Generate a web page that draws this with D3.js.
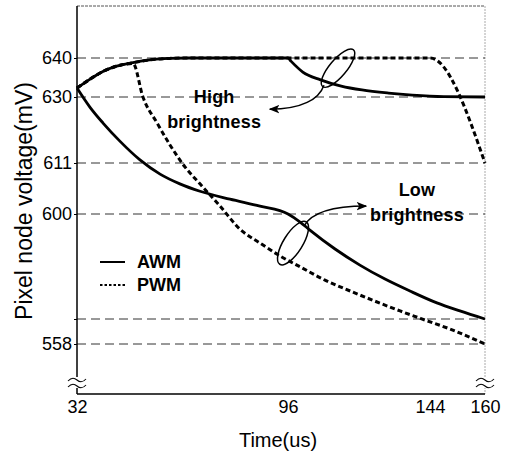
<!DOCTYPE html>
<html>
<head>
<meta charset="utf-8">
<script src="https://cdn.jsdelivr.net/npm/d3@7"></script>
<style>
html,body{margin:0;padding:0;background:#fff;}
svg{display:block;}
text{font-family:"Liberation Sans",Arial,sans-serif;fill:#000;}
</style>
</head>
<body>
<svg id="chart" width="507" height="454"></svg>
<script>
// ---- data ----
const xTicks = [32, 96, 144, 160];
const yGrid = [640, 630, 611, 600, 570, 558];
const yLabels = ["640", "630", "611", "600", "", "558"];

const awmHigh = [[32,632.3],[36,634.6],[40,636.6],[44,637.9],[49,638.8],[54,639.5],[60,639.9],[66,640],[96,640],[97,639.2],[101,636.4],[107,634.4],[114,632.8],[121,631.8],[130,631],[138,630.5],[148,630.1],[160,630]];
const pwmHigh = [[32,632.3],[36,634.6],[40,636.6],[44,637.9],[49,638.8],[54,639.5],[60,639.9],[66,640],[144,640],[160,611]];
const awmLow = [[32,632.3],[35.9,627.1],[39.9,622.5],[45,617.3],[51.1,611.9],[57.2,608.6],[63.2,606.5],[69.3,604.9],[78.4,603.2],[87.5,601.7],[96,600],[100.1,597.7],[103.4,595.4],[111.9,590],[120.3,585.4],[128.8,581.4],[137.2,578],[146,574.6],[152.7,572.3],[160,570]];
const pwmLow = [[32,632.3],[36,634.6],[40,636.6],[44,637.9],[49,638.6],[52,630],[56.3,622.5],[60.2,616.2],[64.8,610.1],[69.3,606.5],[75.4,601.7],[81.4,595.7],[87.5,591.7],[93.6,588],[100.1,584.9],[108.5,581.1],[117,578],[125.4,575.1],[133.9,572.3],[142.3,569.5],[149.8,565.2],[160,558]];

const legendItems = ["AWM", "PWM"];

// ---- layout ----
const svg = d3.select("#chart");
const m = {left:77, top:6};
const W = 408, H = 388;
const g = svg.append("g").attr("transform", `translate(${m.left},${m.top})`);

const x = d3.scaleLinear().domain(xTicks).range([0, 211, 353, 408]);
const y = d3.scaleLinear().domain([558, 570, 600, 611, 630, 640]).range([338, 313, 208, 157, 91, 52]);

// frame
g.append("line").attr("x1",0).attr("x2",W).attr("y1",0).attr("y2",0)
  .attr("stroke","#555").attr("stroke-width",1).attr("stroke-dasharray","3,1");
g.append("line").attr("x1",W).attr("x2",W).attr("y1",0).attr("y2",H)
  .attr("stroke","#aaa").attr("stroke-width",1).attr("stroke-dasharray","2,1");

// gridlines
g.selectAll(".grid").data(yGrid).join("line")
  .attr("x1",0).attr("x2",W)
  .attr("y1",d=>y(d)).attr("y2",d=>y(d))
  .attr("stroke","#333").attr("stroke-width",1).attr("stroke-dasharray","9,5");

// axes
const yAxis = g.append("g").call(d3.axisLeft(y).tickValues(yGrid).tickFormat((d,i)=>yLabels[i]).tickSize(3).tickPadding(2));
yAxis.select(".domain").remove();
yAxis.selectAll("text").style("font-size","18px").style("font-family","Liberation Sans, Arial, sans-serif");
const xAxis = g.append("g").attr("transform",`translate(0,${H})`)
  .call(d3.axisBottom(x).tickValues(xTicks).tickFormat(d3.format("d")).tickSize(0).tickPadding(6));
xAxis.select(".domain").remove();
xAxis.selectAll("text").style("font-size","18px").style("font-family","Liberation Sans, Arial, sans-serif");

g.append("line").attr("x1",0).attr("x2",0).attr("y1",0).attr("y2",H).attr("stroke","#000").attr("stroke-width",1.5);
g.append("line").attr("x1",0).attr("x2",W).attr("y1",H).attr("y2",H).attr("stroke","#000").attr("stroke-width",1.5);

// break marks
function breakMark(cx, cy){
  const b = g.append("g").attr("transform",`translate(${cx},${cy})`);
  b.append("rect").attr("x",-10).attr("y",-6).attr("width",20).attr("height",11).attr("fill","#fff");
  [-3,3].forEach(dy=>{
    b.append("path").attr("d",`M-9,${dy+1} Q-4.5,${dy-4} 0,${dy} T9,${dy-1}`)
      .attr("fill","none").attr("stroke","#000").attr("stroke-width",1.1);
  });
}
breakMark(0, H-11);
breakMark(W, H-11);

// curves
const line = d3.line().x(d=>x(d[0])).y(d=>y(d[1])).curve(d3.curveMonotoneX);
g.append("path").datum(pwmHigh).attr("d",line).attr("fill","none").attr("stroke","#000").attr("stroke-width",3).attr("stroke-dasharray","5,3");
g.append("path").datum(pwmLow).attr("d",line).attr("fill","none").attr("stroke","#000").attr("stroke-width",3).attr("stroke-dasharray","5,3");
g.append("path").datum(awmHigh).attr("d",line).attr("fill","none").attr("stroke","#000").attr("stroke-width",2.8);
g.append("path").datum(awmLow).attr("d",line).attr("fill","none").attr("stroke","#000").attr("stroke-width",2.8);

// annotations (anchored in data units)
const annFont = "bold 18px 'Liberation Sans', Arial, sans-serif";
function label(t, v, s){
  g.append("text").attr("x",x(t)).attr("y",y(v)).attr("text-anchor","middle").attr("dominant-baseline","central")
    .style("font", annFont).style("letter-spacing","0.2px").text(s);
}
label(73.6, 630, "High");
label(73.6, 622.8, "brightness");
label(139.6, 605.2, "Low");
label(139.6, 599.7, "brightness");

// ellipses + arrows
const defs = svg.append("defs");
defs.append("marker").attr("id","arr").attr("viewBox","0 0 10 10").attr("refX",9).attr("refY",5)
  .attr("markerWidth",7).attr("markerHeight",7).attr("orient","auto-start-reverse")
  .append("path").attr("d","M0,1 L10,5 L0,9 L2.5,5 Z").attr("fill","#000");

const e1 = [112.9, 637.4], e2 = [97.7, 591.7];
g.append("ellipse").attr("cx",x(e1[0])).attr("cy",y(e1[1])).attr("rx",24).attr("ry",8.5)
  .attr("transform",`rotate(-50,${x(e1[0])},${y(e1[1])})`).attr("fill","none").attr("stroke","#000").attr("stroke-width",1.5);
g.append("ellipse").attr("cx",x(e2[0])).attr("cy",y(e2[1])).attr("rx",25).attr("ry",9.5)
  .attr("transform",`rotate(-58,${x(e2[0])},${y(e2[1])})`).attr("fill","none").attr("stroke","#000").attr("stroke-width",1.5);

{
  const sx = x(e1[0]) - 14, sy = y(e1[1]) + 17;
  const tx = x(90.5), ty = y(626.5);
  g.append("path").attr("d",`M${sx},${sy} C${sx-5},${sy+14} ${sx-22},${ty} ${tx},${ty}`)
    .attr("fill","none").attr("stroke","#000").attr("stroke-width",1.5).attr("marker-end","url(#arr)");
}
{
  const sx = x(e2[0]) + 11, sy = y(e2[1]) - 17;
  const tx = x(122.4), ty = y(601.7);
  g.append("path").attr("d",`M${sx},${sy} C${sx+8},${sy-14} ${sx+30},${ty} ${tx},${ty}`)
    .attr("fill","none").attr("stroke","#000").attr("stroke-width",1.5).attr("marker-end","url(#arr)");
}

// legend
const leg = g.append("g").attr("transform","translate(23,256)");
legendItems.forEach((s,i)=>{
  leg.append("line").attr("x1",0).attr("x2",25).attr("y1",i*23).attr("y2",i*23)
    .attr("stroke","#000").attr("stroke-width",i===0?2:2.2).attr("stroke-dasharray",i===0?null:"2.5,2");
  leg.append("text").attr("x",37).attr("y",i*23).attr("dominant-baseline","central")
    .style("font", annFont).text(s);
});

// axis titles
svg.append("text").attr("x", 278).attr("y", 440).attr("text-anchor","middle").attr("dominant-baseline","central")
  .style("font-size","20px").text("Time(us)");
svg.append("text").attr("transform","translate(24,201) rotate(-90)").attr("text-anchor","middle").attr("dominant-baseline","central")
  .style("font-size","23px").text("Pixel node voltage(mV)");
</script>
</body>
</html>
